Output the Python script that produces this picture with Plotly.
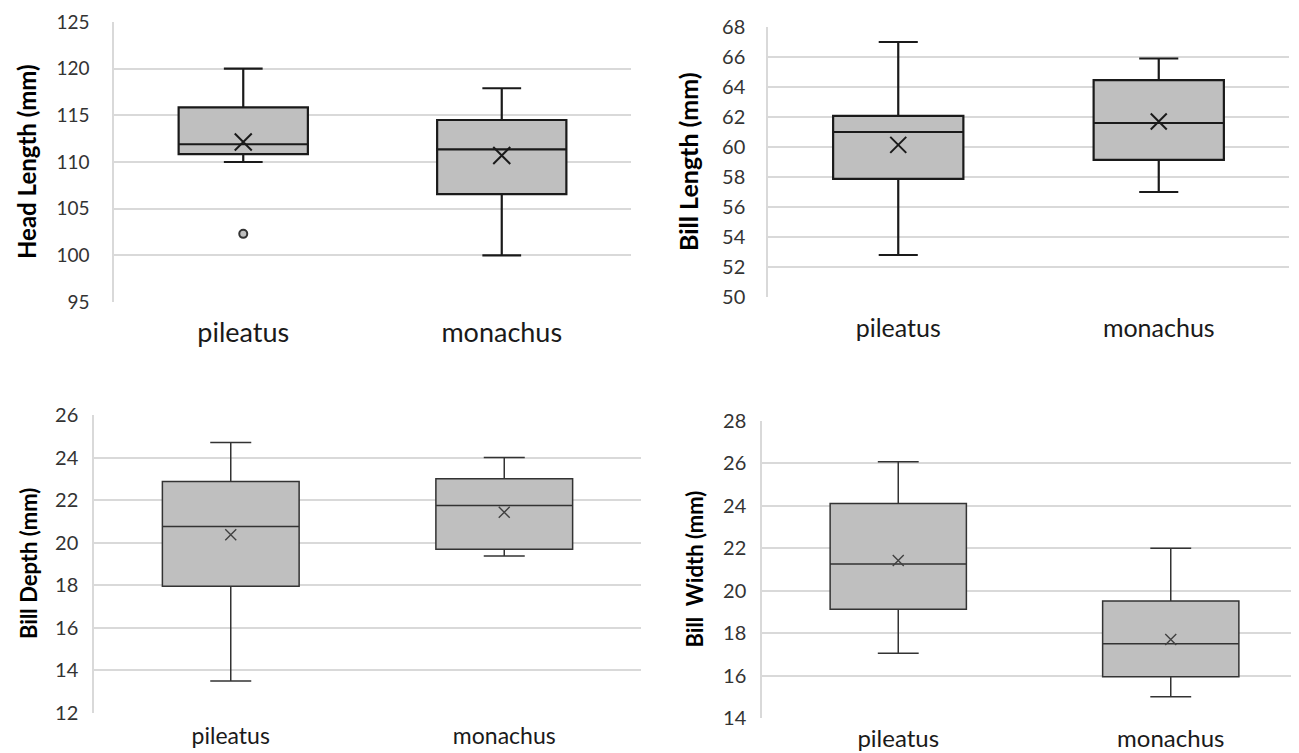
import plotly.graph_objects as go

W, H = 1299, 753

categories = ["pileatus", "monachus"]

# Head length (mm)
head_lo = [110.0, 100.0]
head_q1 = [110.85, 106.55]
head_med = [111.9, 111.35]
head_q3 = [115.85, 114.5]
head_hi = [120.0, 117.9]
head_mean = [112.15, 110.7]
head_outlier_cat = ["pileatus"]
head_outlier_val = [102.3]

# Bill length (mm)
blen_lo = [52.8, 57.0]
blen_q1 = [57.88, 59.14]
blen_med = [61.0, 61.6]
blen_q3 = [62.07, 64.46]
blen_hi = [67.0, 65.9]
blen_mean = [60.14, 61.7]

# Bill depth (mm)
bdep_lo = [13.5, 19.38]
bdep_q1 = [17.95, 19.69]
bdep_med = [20.76, 21.75]
bdep_q3 = [22.87, 23.0]
bdep_hi = [24.71, 24.0]
bdep_mean = [20.37, 21.43]

# Bill width (mm)
bwid_lo = [17.05, 15.0]
bwid_q1 = [19.13, 15.95]
bwid_med = [21.26, 17.5]
bwid_q3 = [24.11, 19.51]
bwid_hi = [26.08, 22.0]
bwid_mean = [21.42, 17.7]

titles = ["Head Length (mm)", "Bill Length (mm)", "Bill Depth (mm)", "Bill  Width (mm)"]
yranges = [(95, 125, 5), (50, 68, 2), (12, 26, 2), (14, 28, 2)]

# pixel boxes of each plot area: (left, right, top, bottom)
areas = [(106, 623, 14, 294), (760, 1281, 19, 289), (86, 633, 407, 705), (754, 1299, 413, 710)]

FONT = "Lato"
FILL = "#bfbfbf"

panels = [
    (head_lo, head_q1, head_med, head_q3, head_hi, head_mean),
    (blen_lo, blen_q1, blen_med, blen_q3, blen_hi, blen_mean),
    (bdep_lo, bdep_q1, bdep_med, bdep_q3, bdep_hi, bdep_mean),
    (bwid_lo, bwid_q1, bwid_med, bwid_q3, bwid_hi, bwid_mean),
]
styles = [
    dict(lw=2.2, lc="#1a1a1a", ms=17, mw=2.0, mc="#1a1a1a", tick=19, tstand=19, xl=27, xstand=12, tt=24, tx=18),
    dict(lw=2.2, lc="#1a1a1a", ms=16, mw=2.0, mc="#1a1a1a", tick=20, tstand=17, xl=25, xstand=14, tt=25, tx=680),
    dict(lw=1.5, lc="#333333", ms=11, mw=1.4, mc="#404040", tick=20, tstand=10, xl=23, xstand=7, tt=22, tx=20),
    dict(lw=1.5, lc="#333333", ms=11, mw=1.4, mc="#404040", tick=20, tstand=10, xl=24, xstand=4, tt=22, tx=686),
]

fig = go.Figure()
layout = dict(
    width=W, height=H,
    margin=dict(l=0, r=0, t=0, b=0),
    paper_bgcolor="white", plot_bgcolor="white",
    showlegend=False,
    font=dict(family=FONT, color="#262626"),
)
annotations = []

for i, (stats, st, area, title, yr) in enumerate(zip(panels, styles, areas, titles, yranges)):
    lo, q1, med, q3, hi, mean = stats
    n = "" if i == 0 else str(i + 1)
    xa, ya = "x" + n, "y" + n
    fig.add_trace(go.Box(
        x=categories, q1=q1, median=med, q3=q3, lowerfence=lo, upperfence=hi,
        xaxis=xa, yaxis=ya, width=0.5, whiskerwidth=0.3,
        fillcolor=FILL, line=dict(color=st["lc"], width=st["lw"]),
        boxpoints=False, hoverinfo="skip",
    ))
    fig.add_trace(go.Scatter(
        x=categories, y=mean, mode="markers", xaxis=xa, yaxis=ya,
        marker=dict(symbol="x-thin", size=st["ms"], line=dict(color=st["mc"], width=st["mw"])),
        hoverinfo="skip",
    ))
    if i == 0:
        fig.add_trace(go.Scatter(
            x=head_outlier_cat, y=head_outlier_val, mode="markers", xaxis=xa, yaxis=ya,
            marker=dict(symbol="circle", size=8, color=FILL, line=dict(color="#333333", width=2)),
            hoverinfo="skip",
        ))
    l, r, t, b = area
    layout["xaxis" + n] = dict(
        domain=[l / W, r / W], anchor=ya, type="category", range=[-0.5, 1.5],
        showgrid=False, showline=False, zeroline=False,
        ticks="", ticklabelstandoff=st["xstand"],
        tickfont=dict(family=FONT, size=st["xl"], color="#1a1a1a"),
        automargin=False,
    )
    layout["yaxis" + n] = dict(
        domain=[1 - b / H, 1 - t / H], anchor=xa, range=[yr[0], yr[1]], dtick=yr[2], tick0=yr[0],
        showgrid=True, gridcolor="#d9d9d9", gridwidth=1.5,
        showline=True, linecolor="#d9d9d9", linewidth=1.5, zeroline=False,
        ticks="", ticklabelstandoff=st["tstand"],
        tickfont=dict(family=FONT, size=st["tick"], color="#333333"),
        automargin=False,
    )
    annotations.append(dict(
        text="<b>" + title + "</b>", xref="paper", yref="paper",
        x=st["tx"] / W, y=1 - (t + b) / 2 / H, xanchor="center", yanchor="middle",
        textangle=-90, showarrow=False,
        font=dict(family=FONT, size=st["tt"], color="#000000"),
    ))

layout["annotations"] = annotations
fig.update_layout(**layout)
fig.write_html("out.html")
